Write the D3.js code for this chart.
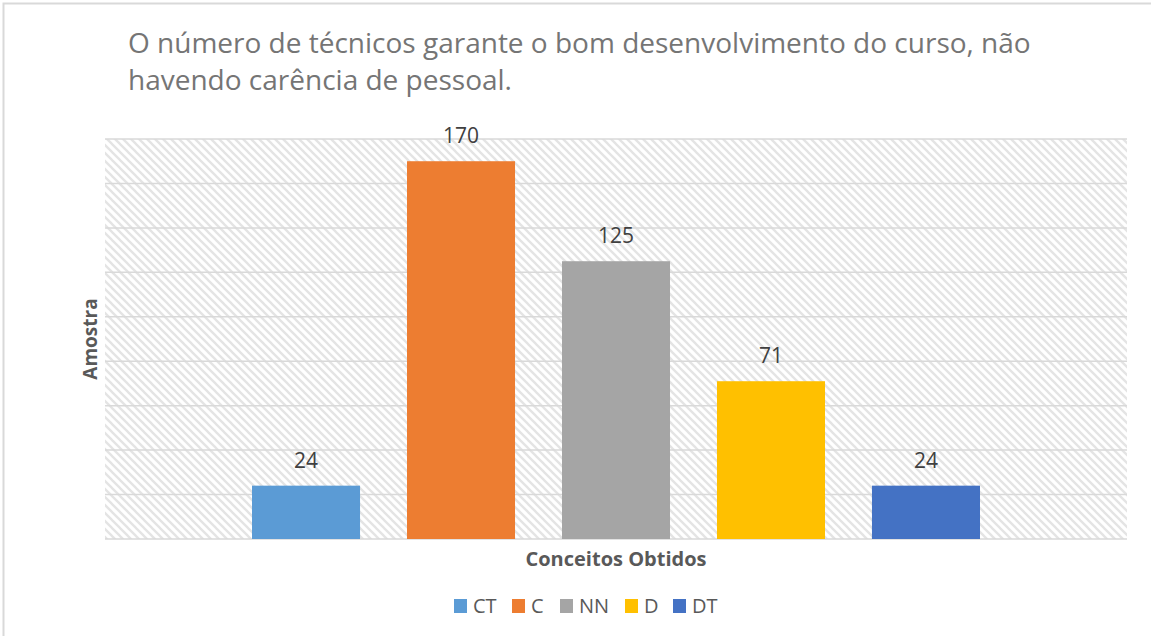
<!DOCTYPE html>
<html>
<head>
<meta charset="utf-8">
<script src="https://d3js.org/d3.v7.min.js"></script>
<style>
  body { margin: 0; background: #fff; }
  text { font-family: "Open Sans", sans-serif; }
</style>
</head>
<body>
<svg id="chart" width="1151" height="636"></svg>
<script>
  // data
  const categories = ["CT", "C", "NN", "D", "DT"];
  const values = [24, 170, 125, 71, 24];
  const colors = ["#5B9BD5", "#ED7D31", "#A5A5A5", "#FFC000", "#4472C4"];
  const yTicks = [0, 20, 40, 60, 80, 100, 120, 140, 160, 180];
  const titleLines = ["O número de técnicos garante o bom desenvolvimento do curso, não",
                      "havendo carência de pessoal."];

  const svg = d3.select("#chart");
  const plotL = 105, plotR = 1127, plotT = 139, plotB = 539;

  // hatch
  const defs = svg.append("defs");
  const pat = defs.append("pattern")
    .attr("id", "hatch")
    .attr("patternUnits", "userSpaceOnUse")
    .attr("width", 8).attr("height", 8);
  pat.append("rect").attr("width", 8).attr("height", 8).attr("fill", "#fff");
  pat.append("path")
    .attr("d", "M-2,-2 L10,10 M-2,6 L2,10 M6,-2 L10,2")
    .attr("stroke", "#e4e4e4")
    .attr("stroke-width", 2.3);

  // outer border
  svg.append("rect")
    .attr("x", 3.5).attr("y", 3.5)
    .attr("width", 1160).attr("height", 650)
    .attr("fill", "none")
    .attr("stroke", "#d9d9d9")
    .attr("stroke-width", 2);

  const x = d3.scaleBand()
    .domain(categories)
    .range([plotL, plotR])
    .paddingInner(0.303)
    .paddingOuter(0.9485);

  const y = d3.scaleLinear().domain([0, 180]).range([plotB, plotT]);

  svg.append("rect")
    .attr("x", plotL).attr("y", plotT)
    .attr("width", plotR - plotL).attr("height", plotB - plotT)
    .attr("fill", "url(#hatch)");

  // gridlines
  svg.append("g")
    .selectAll("line")
    .data(yTicks)
    .join("line")
    .attr("x1", plotL).attr("x2", plotR)
    .attr("y1", d => y(d)).attr("y2", d => y(d))
    .attr("stroke", "#d9d9d9")
    .attr("stroke-width", 1.5);

  // bars
  svg.append("g")
    .selectAll("rect")
    .data(values)
    .join("rect")
    .attr("x", (d, i) => x(categories[i]))
    .attr("y", d => y(d))
    .attr("width", x.bandwidth())
    .attr("height", d => y(0) - y(d))
    .attr("fill", (d, i) => colors[i]);

  // labels
  svg.append("g")
    .selectAll("text")
    .data(values)
    .join("text")
    .attr("x", (d, i) => x(categories[i]) + x.bandwidth() / 2)
    .attr("y", d => y(d) - 18)
    .attr("text-anchor", "middle")
    .attr("font-size", 21)
    .attr("fill", "#404040")
    .text(d => d);

  // title
  svg.append("g")
    .selectAll("text")
    .data(titleLines)
    .join("text")
    .attr("x", 128)
    .attr("y", (d, i) => 53 + i * 37)
    .attr("font-size", 28)
    .attr("fill", "#757575")
    .text(d => d);

  // axis titles
  svg.append("text")
    .attr("x", (plotL + plotR) / 2).attr("y", 566)
    .attr("text-anchor", "middle")
    .attr("font-size", 20).attr("font-weight", "bold")
    .attr("fill", "#595959")
    .text("Conceitos Obtidos");

  svg.append("text")
    .attr("transform", "translate(97," + (plotT + plotB) / 2 + ") rotate(-90)")
    .attr("text-anchor", "middle")
    .attr("font-size", 19).attr("font-weight", "bold")
    .attr("fill", "#595959")
    .text("Amostra");

  // legend
  const legendX = [454, 512, 560, 625, 673];
  const legend = svg.append("g")
    .selectAll("g")
    .data(categories)
    .join("g")
    .attr("transform", (d, i) => "translate(" + legendX[i] + ",599)");
  legend.append("rect")
    .attr("width", 13).attr("height", 14)
    .attr("fill", (d, i) => colors[i]);
  legend.append("text")
    .attr("x", 19).attr("y", 14)
    .attr("font-size", 20)
    .attr("fill", "#595959")
    .text(d => d);
</script>
</body>
</html>
